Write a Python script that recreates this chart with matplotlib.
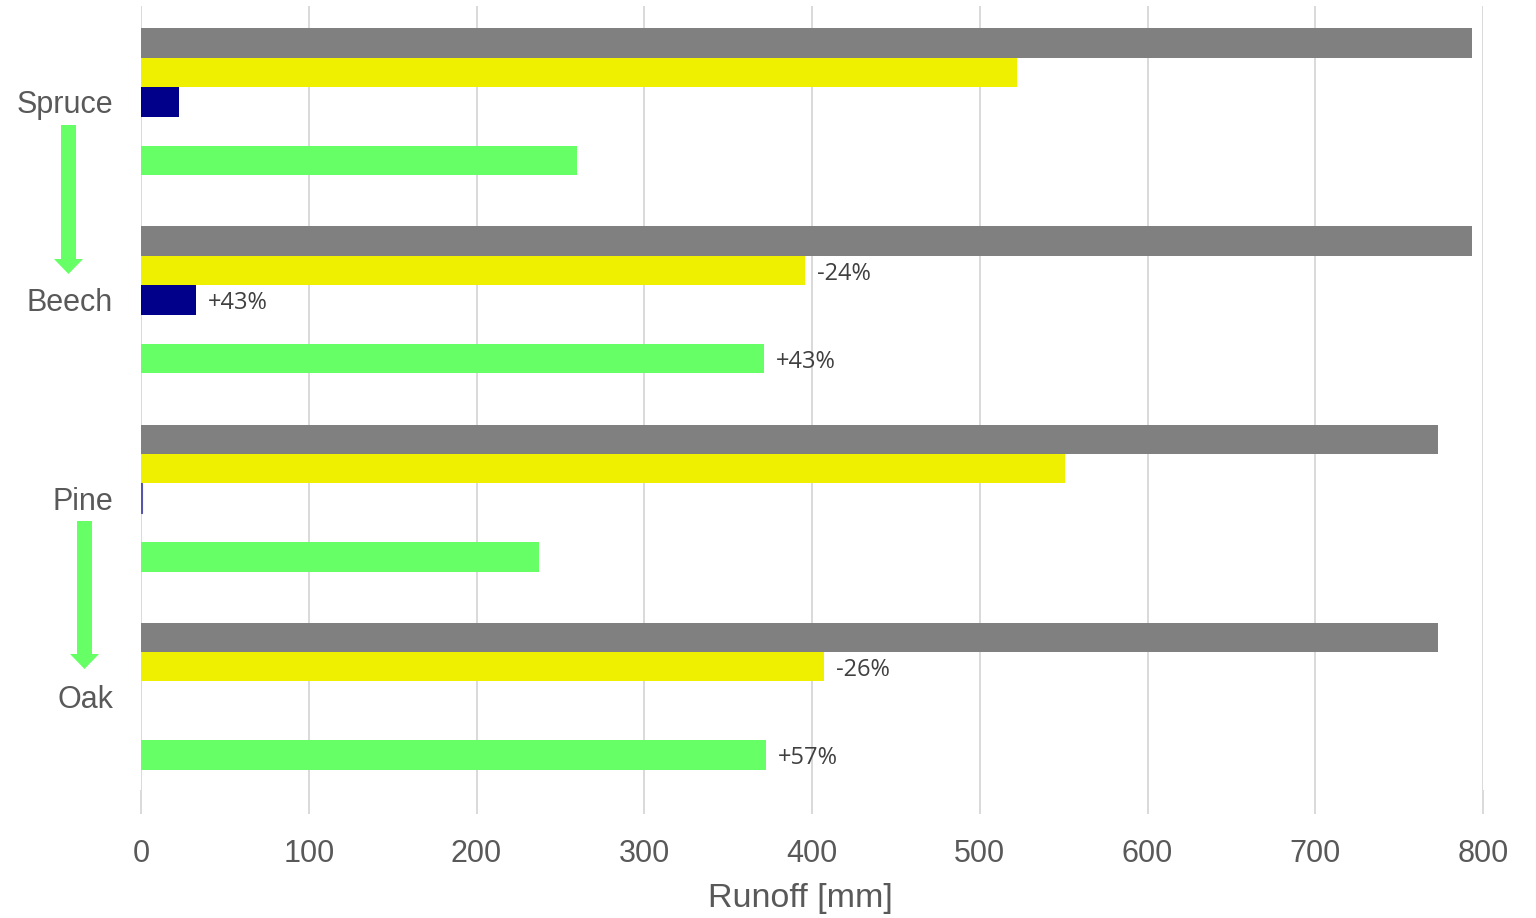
import matplotlib
matplotlib.use('Agg')
import matplotlib.pyplot as plt
from matplotlib.patches import FancyArrow
import numpy as np

# Runoff per stand type [mm]
stands = ['Spruce', 'Beech', 'Pine', 'Oak']
gray_vals = [793.6, 793.6, 773.0, 773.0]
yellow_vals = [522.0, 395.8, 550.8, 407.2]
blue_vals = [22.8, 32.6, 0.4, 0.0]
green_vals = [259.9, 371.4, 237.0, 372.5]

# stand conversions that get a percentage label (from -> to)
conversions = [(0, 1), (2, 3)]

colors = ['#808080', '#EFEF00', '#00008B', '#66FF66']
series = [gray_vals, yellow_vals, blue_vals, green_vals]
offsets = [-2, -1, 0, 2]          # slot +1 is left empty
group_gap = 6.735

plt.rcParams['font.family'] = ['Liberation Sans', 'DejaVu Sans']

fig = plt.figure(figsize=(15.36, 9.18), dpi=100)
ax = fig.add_axes([141/1536, 1 - 790/918, (1483 - 141)/1536, (790 - 6)/918])

centers = np.arange(len(stands)) * group_gap
for vals, col, off in zip(series, colors, offsets):
    ax.barh(centers + off, vals, height=1.0, color=col, linewidth=0, zorder=3)

# thin outline for the near-zero pine bar
ax.barh(centers[2], blue_vals[2], height=1.0, color=colors[2],
        edgecolor='#5555AA', linewidth=0.8, zorder=3)

# percentage change labels
for a, b in conversions:
    for vals, off in zip(series[1:], offsets[1:]):
        if vals[a] < 1 or vals[b] < 1:
            continue
        pct = round((vals[b] / vals[a] - 1) * 100)
        ax.annotate(f'{pct:+d}%', xy=(vals[b], centers[b] + off),
                    xytext=(8.5, 0), textcoords='offset points',
                    ha='left', va='center_baseline', fontsize=17, color='#404040',
                    family=['Open Sans', 'DejaVu Sans'], zorder=4)

ax.set_xlim(0, 800)
ax.set_ylim(3 * group_gap + 3.197, -3.265)
ax.set_xticks(np.arange(0, 801, 100))
ax.set_yticks(centers)
ax.set_yticklabels(stands)

ax.grid(axis='x', color='#D9D9D9', linewidth=1.4, zorder=0)
for s in ax.spines.values():
    s.set_visible(False)

ax.tick_params(axis='x', length=17.5, width=1.4, color='#D9D9D9',
               labelsize=22, labelcolor='#595959', pad=18)
ax.tick_params(axis='y', length=0, labelsize=22, labelcolor='#595959', pad=20)

fig.text(800/1536, 1 - 907/918, 'Runoff [mm]', ha='center', va='baseline',
         fontsize=24.5, color='#595959')

# green arrows showing the stand conversion
for xc, ytop, ybot in [(68.5, 125, 274), (84.5, 521, 669)]:
    arr = FancyArrow(xc/100, (918 - ytop)/100, 0, -(ybot - ytop)/100,
                     width=0.15, head_width=0.29, head_length=0.15,
                     length_includes_head=True, color='#66FF66', linewidth=0,
                     transform=fig.dpi_scale_trans)
    fig.add_artist(arr)

fig.savefig('out.png', dpi=100)
